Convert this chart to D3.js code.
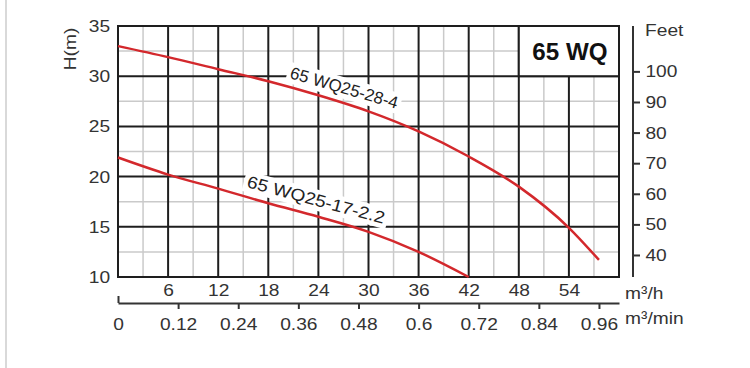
<!DOCTYPE html>
<html>
<head>
<meta charset="utf-8">
<script src="https://cdn.jsdelivr.net/npm/d3@7"></script>
<style>
  body { margin: 0; background: #fff; }
  svg { display: block; font-family: 'Liberation Sans', Arial, sans-serif; }
</style>
</head>
<body>
<svg id="chart" width="750" height="368"></svg>
<script>
// pump curve chart, flow in m3/h, head in m

const flowTicks = [6, 12, 18, 24, 30, 36, 42, 48, 54]
const minTicks = [0, 0.12, 0.24, 0.36, 0.48, 0.6, 0.72, 0.84, 0.96]
const headTicks = [10, 15, 20, 25, 30, 35]
const feetTicks = [40, 50, 60, 70, 80, 90, 100]

const curveNames = ['65 WQ25-28-4', '65 WQ25-17-2.2']
const flowA = [0, 6, 12, 18, 24, 30, 36, 42, 48, 54, 57.6]
const headA = [33.0, 31.9, 30.7, 29.5, 28.1, 26.5, 24.5, 22.0, 19.0, 14.9, 11.7]
const flowB = [0, 6, 12, 18, 24, 30, 36, 42]
const headB = [21.9, 20.2, 18.8, 17.35, 16.0, 14.5, 12.5, 10.0]
const seriesTitle = '65 WQ'

function pumpChartMaker () {
  var svg = d3.select('#chart')
  var left = 118, right = 619, top = 26, bottom = 277
  var textColor = '#333'
  var stretch = 'scale(1.13,1)'

  var x = d3.scaleLinear().domain([0, 60]).range([left, right])
  var xMin = d3.scaleLinear().domain([0, 1]).range([left, right]) // m3/min = m3/h / 60
  var y = d3.scaleLinear().domain([10, 35]).range([bottom, top])
  var yFt = d3.scaleLinear().domain([10 / 0.3048, 35 / 0.3048]).range([bottom, top])

  // page edge on the left
  svg.append('line')
    .attr('x1', 6).attr('x2', 6)
    .attr('y1', 0).attr('y2', 368)
    .attr('stroke', '#d9d9d9')
    .attr('stroke-width', 2)

  var grid = svg.append('g')

  // minor grid
  var minorX = d3.range(3, 60, 6)
  var minorY = d3.range(12.5, 35, 5)
  grid.selectAll('.mx').data(minorX).enter().append('line')
    .attr('x1', d => x(d)).attr('x2', d => x(d))
    .attr('y1', top).attr('y2', bottom)
    .attr('stroke', '#cacaca').attr('stroke-width', 1.5)
  grid.selectAll('.my').data(minorY).enter().append('line')
    .attr('x1', left).attr('x2', right)
    .attr('y1', d => y(d)).attr('y2', d => y(d))
    .attr('stroke', '#cacaca').attr('stroke-width', 1.5)

  // major grid
  grid.selectAll('.Mx').data(flowTicks).enter().append('line')
    .attr('x1', d => x(d)).attr('x2', d => x(d))
    .attr('y1', top).attr('y2', bottom)
    .attr('stroke', '#1e1e1e').attr('stroke-width', 2)
  grid.selectAll('.My').data(headTicks.slice(1, -1)).enter().append('line')
    .attr('x1', left).attr('x2', right)
    .attr('y1', d => y(d)).attr('y2', d => y(d))
    .attr('stroke', '#1e1e1e').attr('stroke-width', 2)

  // box for the series title, top right
  svg.append('rect')
    .attr('x', x(48)).attr('y', y(35))
    .attr('width', x(60) - x(48)).attr('height', y(30) - y(35))
    .attr('fill', '#fff')
    .attr('stroke', '#1e1e1e').attr('stroke-width', 2)

  svg.append('text')
    .attr('transform', 'translate(' + (x(54) + 1) + ',60) scale(1.05,1)')
    .attr('text-anchor', 'middle')
    .style('font-size', '23px')
    .style('font-weight', 'bold')
    .attr('fill', '#111')
    .text(seriesTitle)

  // frame
  svg.append('rect')
    .attr('x', left).attr('y', top)
    .attr('width', right - left).attr('height', bottom - top)
    .attr('fill', 'none')
    .attr('stroke', '#1e1e1e').attr('stroke-width', 2)

  // curve labels with white patch behind them
  var labels = [
    { name: curveNames[0], px: 289, py: 78, angle: 16, sx: 1.0 },
    { name: curveNames[1], px: 246, py: 187, angle: 15, sx: 1.13 }
  ]
  labels.forEach(function (l) {
    var lg = svg.append('g')
      .attr('transform', 'translate(' + l.px + ',' + l.py + ') rotate(' + l.angle + ') scale(' + l.sx + ',1)')
    var t = lg.append('text')
      .style('font-size', '17px')
      .attr('fill', '#222')
      .text(l.name)
    var bb = t.node().getBBox()
    lg.insert('rect', 'text')
      .attr('x', bb.x - 3).attr('y', bb.y - 1)
      .attr('width', bb.width + 6).attr('height', bb.height + 2)
      .attr('fill', '#fff')
  })

  // the two pump curves
  var line = d3.line()
    .x(d => x(d[0]))
    .y(d => y(d[1]))
    .curve(d3.curveMonotoneX)

  svg.append('path')
    .attr('d', line(d3.zip(flowA, headA)))
    .attr('fill', 'none')
    .attr('stroke', '#d3282c')
    .attr('stroke-width', 2.5)
  svg.append('path')
    .attr('d', line(d3.zip(flowB, headB)))
    .attr('fill', 'none')
    .attr('stroke', '#d3282c')
    .attr('stroke-width', 2.5)

  // H(m) axis on the left
  var ay = svg.append('g')
    .attr('transform', 'translate(' + left + ',0)')
    .call(d3.axisLeft(y).tickValues(headTicks).tickSize(0).tickPadding(7))
  ay.select('.domain').remove()

  // m3/h labels under the plot
  var ax = svg.append('g')
    .attr('transform', 'translate(0,' + bottom + ')')
    .call(d3.axisBottom(x).tickValues(flowTicks).tickSize(0).tickPadding(7))
  ax.select('.domain').remove()

  // m3/min axis
  var axm = svg.append('g')
    .attr('transform', 'translate(0,303)')
    .call(d3.axisBottom(xMin).tickValues(minTicks).tickSizeInner(6).tickSizeOuter(0).tickPadding(9)
      .tickFormat(d => String(+d.toFixed(2))))
  axm.selectAll('.tick')
    .filter(d => d === 0)
    .select('line')
    .attr('y2', -7)

  // feet axis on the right
  var af = svg.append('g')
    .attr('transform', 'translate(633,0)')
    .call(d3.axisRight(yFt).tickValues(feetTicks).tickSize(7).tickPadding(4))
  af.select('.domain')
    .attr('d', 'M0,' + top + 'V' + bottom)

  // shared axis styling
  svg.selectAll('.tick text, .domain, .tick line')
    .attr('stroke-width', null)
  svg.selectAll('.domain, .tick line')
    .attr('stroke', '#333')
    .attr('stroke-width', 2)
  svg.selectAll('.tick text')
    .attr('fill', textColor)
    .style('font-size', '17px')
    .attr('transform', stretch)
  svg.selectAll('g.tick').attr('font-family', null)
  svg.selectAll('g[font-family]').attr('font-family', null).attr('font-size', null)

  // axis titles
  svg.append('text')
    .attr('transform', 'translate(76,49) rotate(-90) ' + stretch)
    .attr('text-anchor', 'middle')
    .attr('fill', textColor)
    .style('font-size', '17px')
    .text('H(m)')

  svg.append('text')
    .attr('transform', 'translate(645,36) ' + stretch)
    .attr('fill', textColor)
    .style('font-size', '17px')
    .text('Feet')

  svg.append('text')
    .attr('transform', 'translate(625,299) ' + stretch)
    .attr('fill', textColor)
    .style('font-size', '17px')
    .text('m³/h')

  svg.append('text')
    .attr('transform', 'translate(625,324) ' + stretch)
    .attr('fill', textColor)
    .style('font-size', '17px')
    .text('m³/min')
}

pumpChartMaker()
</script>
</body>
</html>
